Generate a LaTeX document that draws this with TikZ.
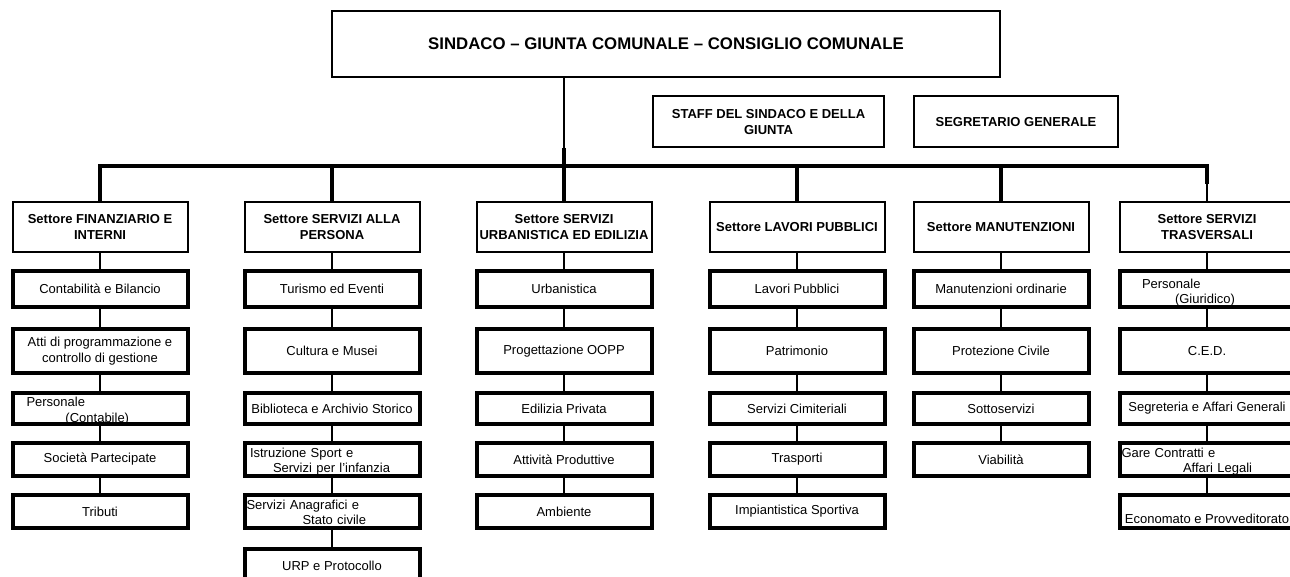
\documentclass[tikz,border=0pt]{standalone}
\usepackage{fontspec}
\setmainfont{Liberation Sans}

\tikzset{
  capo/.style = {draw, line width=2pt, inner sep=0pt, align=center, font=\bfseries\fontsize{16.8}{20}\selectfont},
  sett/.style = {draw, line width=2pt, inner sep=0pt, align=center, minimum width=175pt, minimum height=50pt, font=\bfseries\fontsize{13}{16.5}\selectfont},
  uff/.style = {draw, line width=4pt, inner sep=0pt, align=center, minimum width=175pt, minimum height=#1, font=\fontsize{13}{16.5}\selectfont},
  uffl/.style = {uff=#1, align=left, text width=171pt, inner xsep=2pt, font=\fontsize{13}{15.5}\selectfont},
  bus/.style = {line width=4pt},
  link/.style = {line width=2.5pt},
}

\begin{document}
\begin{tikzpicture}[x=1pt, y=-1pt]
\useasboundingbox (0,0) rectangle (1290,577);
\clip (0,0) rectangle (1290,577);

% vertice
\node[capo, minimum width=668pt, minimum height=66pt] (sind) at (666,44) {SINDACO – GIUNTA COMUNALE – CONSIGLIO COMUNALE};
\node[sett, minimum width=231pt, minimum height=51pt] (staff) at (768.5,122) {STAFF DEL SINDACO E DELLA\\GIUNTA};
\node[sett, minimum width=204pt, minimum height=51pt] (segr) at (1016,122) {SEGRETARIO GENERALE};

% settori
\node[sett] (s1) at (100,227) {Settore FINANZIARIO E\\INTERNI};
\node[sett] (s2) at (332,227) {Settore SERVIZI ALLA\\PERSONA};
\node[sett] (s3) at (564,227) {Settore SERVIZI\\URBANISTICA ED EDILIZIA};
\node[sett] (s4) at (797,227) {Settore LAVORI PUBBLICI};
\node[sett] (s5) at (1001,227) {Settore MANUTENZIONI};
\node[sett] (s6) at (1207,227) {Settore SERVIZI\\TRASVERSALI};

\coordinate (k3) at (564,148);
\coordinate (bus) at (564,166);
\coordinate (k6) at (1207,184);

\draw[line width=2pt] (sind.south -| s3.north) -- (k3);
\draw[bus] (k3) -- (s3.north);
\draw[bus] (s1.north) |- (bus) -| (k6);
\draw[line width=2pt] (k6) -- (s6.north);
\draw[bus] (s2.north) -- (s2.north |- bus);
\draw[bus] (s4.north) -- (s4.north |- bus);
\draw[bus] (s5.north) -- (s5.north |- bus);

% finanziario
\node[uff=36pt] (f1) at (100,289) {Contabilità e Bilancio};
\node[uff=44pt] (f2) at (100,351) {Atti di programmazione e\\controllo di gestione};
\node[uffl=31pt, inner ysep=-2.5pt] (f3) at (100,408.5) {\rule{0pt}{14.5pt}\hspace*{12pt}Personale\\\hspace*{51pt}(Contabile)};
\node[uff=33pt] (f4) at (100,459.5) {Società Partecipate};
\node[uff=33pt] (f5) at (100,511.5) {Tributi};
\draw[link] (s1) -- (f1) (f1) -- (f2) (f2) -- (f3) (f3) -- (f4) (f4) -- (f5);

% servizi alla persona
\node[uff=36pt] (p1) at (332,289) {Turismo ed Eventi};
\node[uff=44pt] (p2) at (332,351) {Cultura e Musei};
\node[uff=31pt] (p3) at (332,408.5) {Biblioteca e Archivio Storico};
\node[uffl=33pt, inner ysep=-2pt] (p4) at (332,459.5) {\rule{0pt}{13.5pt}\hspace*{3.5pt}Istruzione Sport e\\\hspace*{26.5pt}Servizi per l'infanzia};
\node[uffl=33pt, inner ysep=-1pt] (p5) at (332,511.5) {\rule{0pt}{11.5pt}Servizi Anagrafici e\\\hspace*{56pt}Stato civile};
\node[uff=33pt] (p6) at (332,565.5) {URP e Protocollo};
\draw[link] (s2) -- (p1) (p1) -- (p2) (p2) -- (p3) (p3) -- (p4) (p4) -- (p5) (p5) -- (p6);

% urbanistica
\node[uff=36pt] (u1) at (564,289) {Urbanistica};
\node[uff=44pt] (u2) at (564,351) {Progettazione OOPP};
\node[uff=31pt] (u3) at (564,408.5) {Edilizia Privata};
\node[uff=33pt] (u4) at (564,459.5) {Attività Produttive};
\node[uff=33pt] (u5) at (564,511.5) {Ambiente};
\draw[link] (s3) -- (u1) (u1) -- (u2) (u2) -- (u3) (u3) -- (u4) (u4) -- (u5);

% lavori pubblici
\node[uff=36pt] (l1) at (797,289) {Lavori Pubblici};
\node[uff=44pt] (l2) at (797,351) {Patrimonio};
\node[uff=31pt] (l3) at (797,408.5) {Servizi Cimiteriali};
\node[uff=33pt] (l4) at (797,459.5) {Trasporti};
\node[uff=33pt] (l5) at (797,511.5) {Impiantistica Sportiva};
\draw[link] (s4) -- (l1) (l1) -- (l2) (l2) -- (l3) (l3) -- (l4) (l4) -- (l5);

% manutenzioni
\node[uff=36pt] (m1) at (1001,289) {Manutenzioni ordinarie};
\node[uff=44pt] (m2) at (1001,351) {Protezione Civile};
\node[uff=31pt] (m3) at (1001,408.5) {Sottoservizi};
\node[uff=33pt] (m4) at (1001,459.5) {Viabilità};
\draw[link] (s5) -- (m1) (m1) -- (m2) (m2) -- (m3) (m3) -- (m4);

% trasversali
\node[uffl=36pt, inner ysep=-3.5pt] (t1) at (1207,289) {\rule{0pt}{16.5pt}\hspace*{20.5pt}Personale\\\hspace*{53.5pt}(Giuridico)};
\node[uff=44pt] (t2) at (1207,351) {C.E.D.};
\node[uff=31pt] (t3) at (1207,408.5) {Segreteria e Affari Generali};
\node[uffl=33pt, inner ysep=-2pt] (t4) at (1207,459.5) {\rule{0pt}{13.5pt}Gare Contratti e\\\hspace*{61.5pt}Affari Legali};
\node[uff=33pt] (t5) at (1207,511.5) {\mbox{}\\[8pt]Economato e Provveditorato};
\draw[link] (s6) -- (t1) (t1) -- (t2) (t2) -- (t3) (t3) -- (t4) (t4) -- (t5);

\end{tikzpicture}
\end{document}
